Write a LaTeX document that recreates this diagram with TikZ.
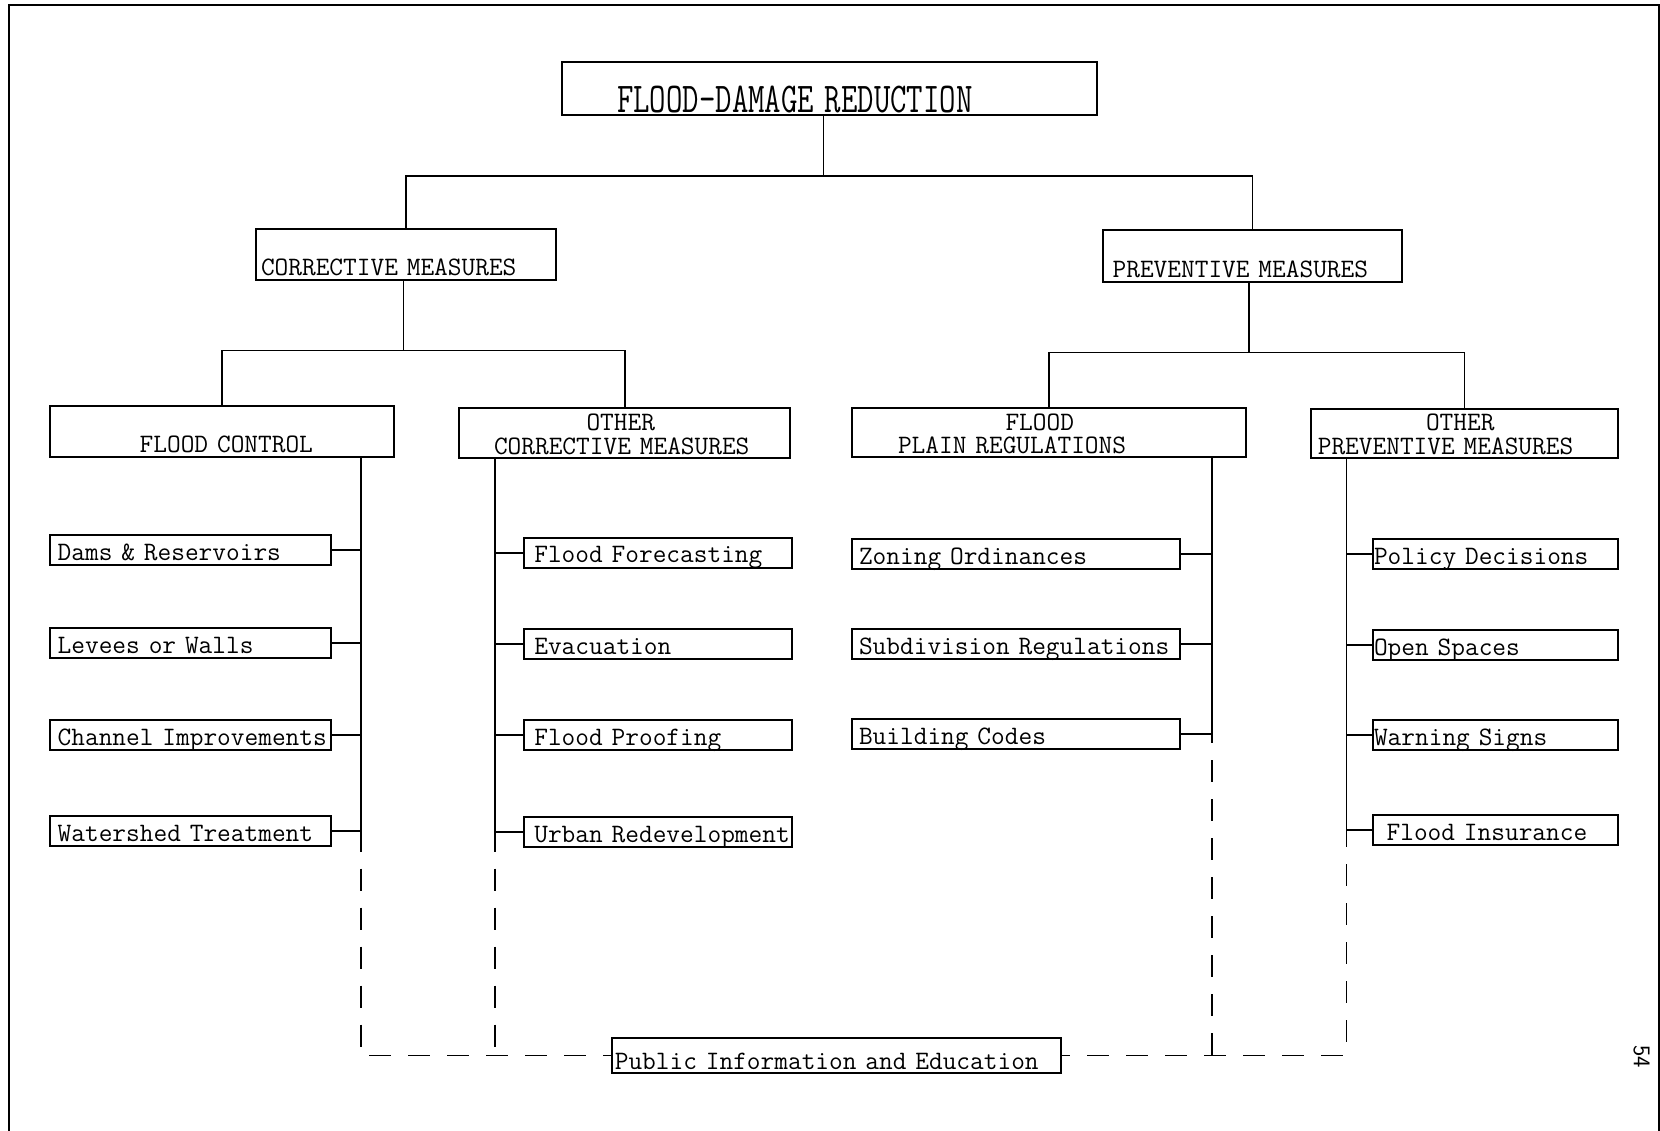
\documentclass[tikz,border=0pt]{standalone}

\newcommand\typefont{\fontsize{26.6}{24}\selectfont\ttfamily}
\newcommand\titlefont{\fontsize{31.9}{34}\selectfont\ttfamily}

\begin{document}
\begin{tikzpicture}[x=1pt, y=-1pt,
  box/.style={draw, line width=2pt, inner sep=0pt, align=left, anchor=north west, font=\typefont},
  leafbox/.style={box, text height=25pt, text depth=5pt},
  link/.style={line width=1.6pt},
  dashlink/.style={line width=1.6pt, dash pattern=on 22pt off 17pt, dash phase=22pt},
  frame/.style={line width=2pt}]
\useasboundingbox (0,0) rectangle (1660,1131);
\draw[frame] (8.5,1131) -- (8.5,5) -- (1658.5,5) -- (1658.5,1131);

% top and second level
\node[box, font=\titlefont, text width=535pt, text height=51pt, text depth=2pt] (fdr) at (561,61) {\hspace*{55pt}\scalebox{1}[1.33]{FLOOD-DAMAGE REDUCTION}};
\node[box, text width=300pt, text height=47pt, text depth=4.5pt] (corr) at (255,228) {\hspace*{5pt}CORRECTIVE MEASURES};
\node[box, text width=298.6pt, text height=47.7pt, text depth=4.3pt] (prev) at (1102,229) {\hspace*{9.6pt}PREVENTIVE MEASURES};

% third level
\node[box, text width=344pt, text height=46.7pt, text depth=4.3pt] (fc) at (48.7,405) {\hspace*{90pt}FLOOD CONTROL};
\node[box, text width=331.4pt, text height=23.3pt, text depth=26.7pt] (oc) at (458,406.7) {\hspace*{127.5pt}OTHER\\\hspace*{35pt}CORRECTIVE MEASURES};
\node[box, text width=393.8pt, text height=22pt, text depth=27pt] (fp) at (851,407) {\hspace*{153.5pt}FLOOD\\\hspace*{46pt}PLAIN REGULATIONS};
\node[box, text width=306.4pt, text height=21.3pt, text depth=27.7pt] (op) at (1310.4,408) {\hspace*{114.6pt}OTHER\\\hspace*{6.4pt}PREVENTIVE MEASURES};

% flood control
\node[leafbox, text width=281.3pt] (dams) at (48.7,534) {\hspace*{8pt}Dams \& Reservoirs};
\node[leafbox, text width=281.3pt] (levees) at (48.7,627) {\hspace*{8pt}Levees or Walls};
\node[leafbox, text width=281.3pt] (channel) at (48.7,719) {\hspace*{8pt}Channel Improvements};
\node[leafbox, text width=281.3pt] (watershed) at (48.7,815) {\hspace*{8pt}Watershed Treatment};

% other corrective measures
\node[leafbox, text width=268pt] (forecast) at (522.8,536.7) {\hspace*{10.5pt}Flood Forecasting};
\node[leafbox, text width=268pt] (evac) at (522.8,628) {\hspace*{10.5pt}Evacuation};
\node[leafbox, text width=268pt] (proofing) at (522.8,719) {\hspace*{10.5pt}Flood Proofing};
\node[leafbox, text width=268pt] (urban) at (522.8,816) {\hspace*{10.5pt}Urban Redevelopment};

% flood plain regulations
\node[leafbox, text width=328pt] (zoning) at (851,538) {\hspace*{7pt}Zoning Ordinances};
\node[leafbox, text width=328pt] (subdiv) at (851,628) {\hspace*{7pt}Subdivision Regulations};
\node[leafbox, text width=328pt] (codes) at (851,718) {\hspace*{7pt}Building Codes};

% other preventive measures
\node[leafbox, text width=245pt] (policy) at (1372,538) {\hspace*{1pt}Policy Decisions};
\node[leafbox, text width=245pt] (open) at (1372,629) {\hspace*{1pt}Open Spaces};
\node[leafbox, text width=245pt] (signs) at (1372,719) {\hspace*{1pt}Warning Signs};
\node[leafbox, text width=245pt] (insurance) at (1372,814) {\hspace*{13.6pt}Flood Insurance};

\node[box, text width=449.6pt, text height=31pt, text depth=3.7pt] (public) at (610.8,1037) {\hspace*{3pt}Public Information and Education};

\node[rotate=-90, font=\fontsize{24}{24}\selectfont\sffamily] (pageno) at (1641.5,1056.5) {54};

% tree lines
\coordinate (top split) at (823.6,176);
\coordinate (corr split) at (403.3,350.4);
\coordinate (prev split) at (1249.2,352.5);
\draw[link] (fdr.south -| top split) -- (top split);
\draw[link] (corr.north) |- (top split) -| (prev.north);
\draw[link] (corr.south -| corr split) -- (corr split);
\draw[link] (fc.north) |- (corr split) -| (oc.north);
\draw[link] (prev.south -| prev split) -- (prev split);
\draw[link] (fp.north) |- (prev split) -| (op.north);

% buses
\coordinate (fcbus) at (360.8,851.7);
\coordinate (ocbus) at (495.2,851.7);
\coordinate (fpbus) at (1212,743);
\coordinate (opbus) at (1346.5,847);
\draw[link] (fc.south -| fcbus) -- (fcbus);
\draw[link] (oc.south -| ocbus) -- (ocbus);
\draw[link] (fp.south -| fpbus) -- (fpbus);
\draw[link] (op.south -| opbus) -- (opbus);
\foreach \leaf in {dams,levees,channel,watershed}
  \draw[link] (\leaf.east) -- (\leaf.east -| fcbus);
\foreach \leaf in {forecast,evac,proofing,urban}
  \draw[link] (ocbus |- \leaf.west) -- (\leaf.west);
\foreach \leaf in {zoning,subdiv,codes}
  \draw[link] (\leaf.east) -- (\leaf.east -| fpbus);
\foreach \leaf in {policy,open,signs,insurance}
  \draw[link] (opbus |- \leaf.west) -- (\leaf.west);

% public information
\draw[dashlink] (fcbus) |- (public.west);
\draw[dashlink] (ocbus) -- (ocbus |- public.west);
\draw[dashlink] (opbus) |- (public.east);
\draw[dashlink] (fpbus) -- (fpbus |- public.east);
\end{tikzpicture}
\end{document}
